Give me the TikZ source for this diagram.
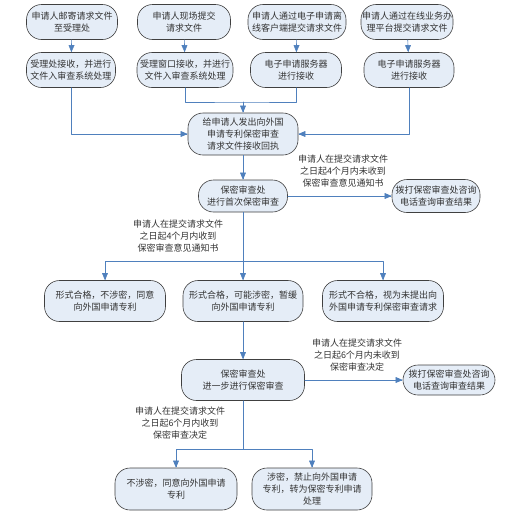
\documentclass[tikz,border=0pt]{standalone}
\usepackage{fontspec}
\newfontfamily\cjk{Noto Sans CJK SC}
\usetikzlibrary{arrows}
\definecolor{ebeff6}{rgb}{0.9,0.93,0.97}
\definecolor{qqlink}{rgb}{0.31,0.5,0.74}
\definecolor{qqtext}{rgb}{0.2,0.2,0.2}

\begin{document}
\begin{tikzpicture}[line cap=round,line join=round,>=triangle 45,x=1pt,y=-1pt,
    flowbox/.style={draw=black!75,line width=0.6pt,fill=ebeff6,rounded corners=15pt,align=center,
      inner xsep=1pt,inner ysep=1pt,font=\cjk\fontsize{9}{12}\selectfont,text=qqtext},
    remark/.style={align=center,inner sep=0pt,font=\cjk\fontsize{9}{12}\selectfont,text=qqtext},
    link/.style={color=qqlink,line width=0.6pt}]
      \useasboundingbox (0,0) rectangle (528,520);
      % submission ways
      \node[flowbox,minimum width=91,minimum height=35] (mail) at (72,22) {申请人邮寄请求文件\\至受理处};
      \node[flowbox,minimum width=93,minimum height=35] (onsite) at (184,22) {申请人现场提交\\请求文件};
      \node[flowbox,minimum width=98,minimum height=35] (client) at (297,22) {申请人通过电子申请离\\线客户端提交请求文件};
      \node[flowbox,minimum width=90,minimum height=35] (online) at (407,22) {申请人通过在线业务办\\理平台提交请求文件};
      \node[flowbox,minimum width=89,minimum height=35] (mailrecv) at (71,70) {受理处接收，并进行\\文件入审查系统处理};
      \node[flowbox,minimum width=96,minimum height=35] (winrecv) at (185,70) {受理窗口接收，并进行\\文件入审查系统处理};
      \node[flowbox,minimum width=91,minimum height=35] (srvrecv) at (296,70) {电子申请服务器\\进行接收};
      \node[flowbox,minimum width=90,minimum height=35] (webrecv) at (409,70) {电子申请服务器\\进行接收};
      \draw[->,link] (mail) -- (mailrecv);
      \draw[->,link] (onsite) -- (winrecv);
      \draw[->,link] (client) -- (srvrecv);
      \draw[->,link] (online) -- (webrecv);
      % receipt
      \node[flowbox,minimum width=110,minimum height=42] (receipt) at (243,134) {给申请人发出向外国\\申请专利保密审查\\请求文件接收回执};
      \coordinate (joinA) at (243,102);
      \draw[->,link] (mailrecv.south) |- (receipt.west);
      \draw[->,link] (webrecv.south) |- (receipt.east);
      \draw[link] (winrecv.south) |- (joinA) -| (srvrecv.south);
      \draw[->,link] (joinA) -- (receipt.north);
      % first review
      \node[flowbox,minimum width=89,minimum height=32] (first) at (243,196) {保密审查处\\进行首次保密审查};
      \node[flowbox,minimum width=88,minimum height=33] (callA) at (436,196) {拨打保密审查处咨询\\电话查询审查结果};
      \node[remark] (noticeno) at (343,171) {申请人在提交请求文件\\之日起4个月内未收到\\保密审查意见通知书};
      \node[remark] (noticeyes) at (178,236) {申请人在提交请求文件\\之日起4个月内收到\\保密审查意见通知书};
      \draw[->,link] (receipt) -- (first);
      \draw[->,link] (first) -- (callA);
      % results of first review
      \node[flowbox,minimum width=121,minimum height=41] (pass) at (105,301) {形式合格，不涉密，同意\\向外国申请专利};
      \node[flowbox,minimum width=120,minimum height=41] (hold) at (243,301) {形式合格，可能涉密，暂缓\\向外国申请专利};
      \node[flowbox,minimum width=121,minimum height=41] (fail) at (383,301) {形式不合格，视为未提出向\\外国申请专利保密审查请求};
      \coordinate (joinB) at (243,261);
      \draw[link] (first) -- (joinB);
      \draw[->,link] (joinB) -| (pass.north);
      \draw[->,link] (joinB) -| (fail.north);
      \draw[->,link] (joinB) -- (hold.north);
      % further review
      \node[flowbox,minimum width=123,minimum height=41] (further) at (243,380) {保密审查处\\进一步进行保密审查};
      \node[flowbox,minimum width=92,minimum height=30] (callB) at (449,380) {拨打保密审查处咨询\\电话查询审查结果};
      \node[remark] (decisionno) at (357,355) {申请人在提交请求文件\\之日起6个月内未收到\\保密审查决定};
      \node[remark] (decisionyes) at (180,423) {申请人在提交请求文件\\之日起6个月内收到\\保密审查决定};
      \draw[->,link] (hold) -- (further);
      \draw[->,link] (further) -- (callB);
      % final decision
      \node[flowbox,minimum width=122,minimum height=42] (allow) at (176,489) {不涉密，同意向外国申请\\专利};
      \node[flowbox,minimum width=120,minimum height=42] (forbid) at (312,489) {涉密，禁止向外国申请\\专利，转为保密专利申请\\处理};
      \coordinate (joinC) at (243,449);
      \draw[link] (further) -- (joinC);
      \draw[->,link] (joinC) -| (allow.north);
      \draw[->,link] (joinC) -| (forbid.north);
    \end{tikzpicture}
\end{document}
